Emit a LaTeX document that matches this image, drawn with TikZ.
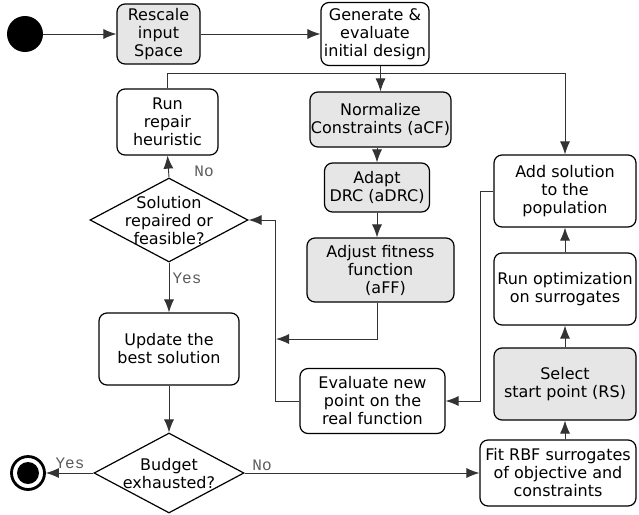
\documentclass[tikz,border=0pt]{standalone}
\usepackage{fontspec}
\setmainfont{DejaVu Sans}
\setmonofont{Liberation Mono}
\usetikzlibrary{shapes.geometric,arrows.meta}
\definecolor{boxgray}{HTML}{E6E6E6}
\definecolor{linegray}{HTML}{5A5A5A}
\tikzset{
  box/.style={draw, rounded corners=8pt, line width=1.2pt, align=center, inner sep=1pt,
    font=\fontsize{16}{18}\selectfont, fill=white},
  graybox/.style={box, fill=boxgray},
  dia/.style={draw, diamond, line width=1.2pt, inner sep=0pt},
  txt/.style={align=center, inner sep=0pt, font=\fontsize{16}{18}\selectfont},
  lbl/.style={inner sep=1pt, text=linegray, font=\fontsize{16}{16}\selectfont\ttfamily},
  flow/.style={->, line width=0.9pt, draw=black!80},
}
\begin{document}
\begin{tikzpicture}[>={Latex[length=13pt,width=10pt]}, x=1pt, y=-1pt]
    \useasboundingbox (0,0) rectangle (639,514);

    % 1. Start and end
    \node[circle, fill=black, minimum size=36pt, inner sep=0pt] (start) at (25,34) {};
    \node[circle, draw, line width=2.8pt, minimum size=33pt, inner sep=0pt,
      path picture={\fill[black] (path picture bounding box.center) circle (11pt);}] (stop) at (28,473) {};

    % 2. Boxes
    \node[graybox, minimum width=83pt, minimum height=60pt] (rescale) at (158.5,34) {Rescale\\input\\Space};
    \node[box, minimum width=108pt, minimum height=63pt] (generate) at (375,34) {Generate \&\\evaluate\\initial design};
    \node[box, minimum width=101pt, minimum height=66pt] (repair) at (167.5,122) {Run\\repair\\heuristic};
    \node[graybox, minimum width=135pt, minimum height=55pt] (norm) at (380.5,119.5) {Normalize\\Constraints (aCF)};
    \node[graybox, minimum width=105pt, minimum height=49pt] (adapt) at (377,187.5) {Adapt\\DRC (aDRC)};
    \node[graybox, minimum width=147pt, minimum height=64pt] (adjust) at (380.5,270) {Adjust fitness\\function\\\ \ (aFF)};
    \node[box, minimum width=142pt, minimum height=72pt] (addsol) at (565,191) {Add solution\\to the\\population};
    \node[box, minimum width=142pt, minimum height=72pt] (runopt) at (565,289) {Run optimization\\on surrogates};
    \node[graybox, minimum width=142pt, minimum height=72pt] (select) at (565,384) {Select\\start point (RS)};
    \node[box, minimum width=156pt, minimum height=66pt] (fit) at (558,473) {Fit RBF surrogates\\of objective and\\constraints};
    \node[box, minimum width=145pt, minimum height=65pt] (evaluate) at (372.5,401) {Evaluate new\\point on the\\real function};
    \node[box, minimum width=140pt, minimum height=72pt] (update) at (169,349) {Update the\\best solution};

    % 3. Decisions
    \node[dia, minimum width=158pt, minimum height=84pt] (solq) at (169,220) {};
    \node[txt] (solqtext) at (169,221) {Solution\\repaired or\\feasible?};
    \node[dia, minimum width=150pt, minimum height=80pt] (budget) at (169,473) {};
    \node[txt] (budgettext) at (169,474) {Budget\\exhausted?};

    % 4. Connectors
    \draw[flow] (start) -- (rescale);
    \draw[flow] (rescale) -- (rescale -| generate.west);
    \draw[flow] (norm.north |- generate.south) -- (norm.north);
    \draw[flow] (repair.north) -- ++(0,-15) -| (addsol.north);
    \draw[flow] (adapt.north |- norm.south) -- (adapt.north);
    \draw[flow] (adapt.south) -- (adapt.south |- adjust.north);
    \coordinate (mrg) at (276,339);
    \draw[flow] (adjust.south -| adapt) |- (mrg);
    \draw[flow] (evaluate.west) -- ++(-24,0) |- (solq.east);
    \draw[flow] (addsol.west) -- ++(-13,0) |- (evaluate.east);
    \draw[flow] (runopt) -- (addsol);
    \draw[flow] (select) -- (runopt);
    \draw[flow] (select.south |- fit.north) -- (select.south);
    \draw[flow] (budget.east) -- (budget.east -| fit.west);
    \draw[flow] (budget.west) -- (stop);
    \draw[flow] (solq.north) -- (repair.south);
    \draw[flow] (solq.south) -- (update.north);
    \draw[flow] (update.south) -- (budget.north);

    % 5. Branch labels
    \node[lbl] (nofeas) at (204,171) {No};
    \node[lbl] (yesfeas) at (187,278) {Yes};
    \node[lbl] (yesdone) at (70,463) {Yes};
    \node[lbl] (nodone) at (262,465) {No};
\end{tikzpicture}
\end{document}
